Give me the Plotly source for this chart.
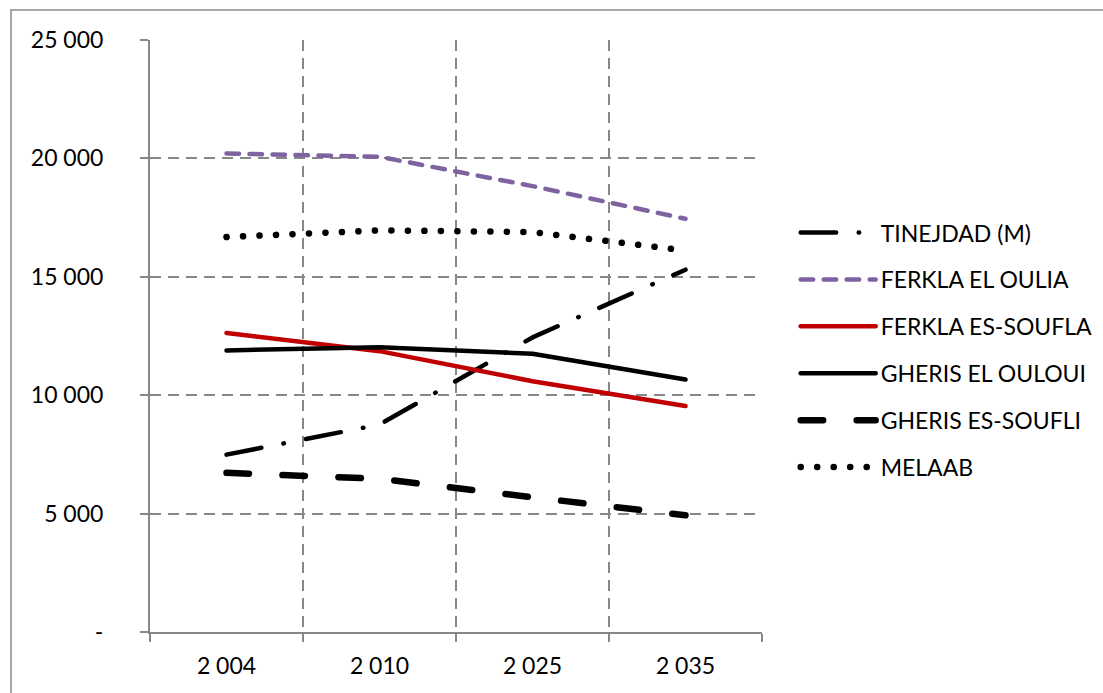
import plotly.graph_objects as go

years = ["2 004", "2 010", "2 025", "2 035"]

tinejdad = [7490, 8760, 12440, 15300]
ferkla_el_oulia = [20210, 20070, 18830, 17450]
ferkla_es_soufla = [12630, 11860, 10590, 9540]
gheris_el_ouloui = [11890, 12030, 11750, 10660]
gheris_es_soufli = [6720, 6470, 5690, 4930]
melaab = [16680, 16960, 16890, 16110]

y_tickvals = [0, 5000, 10000, 15000, 20000, 25000]
y_ticktext = ["-", "5 000", "10 000", "15 000", "20 000", "25 000"]

series = [
    ("TINEJDAD (M)", tinejdad, "#000000", 4.5, "35.5px,22.5px,0.5px,22.5px"),
    ("FERKLA EL OULIA", ferkla_el_oulia, "#7F63A1", 4.5, "12.5px,10.5px"),
    ("FERKLA ES-SOUFLA", ferkla_es_soufla, "#C00000", 4.5, "solid"),
    ("GHERIS EL OULOUI", gheris_el_ouloui, "#000000", 4.5, "solid"),
    ("GHERIS ES-SOUFLI", gheris_es_soufli, "#000000", 6.5, "22.5px,33.5px"),
    ("MELAAB", melaab, "#000000", 6.5, "0.1px,16.4px"),
]

fig = go.Figure()
for i, (name, vals, color, width, dash) in enumerate(series):
    fig.add_trace(go.Scatter(
        x=years, y=vals, name=name, mode="lines",
        line=dict(color=color, width=width, dash=dash),
        legendgroup=f"g{i}",
    ))

axis_gray = "#878787"
font_family = "Lato, Carlito, 'Liberation Sans', sans-serif"
fsize = 23

fig.update_layout(
    width=1103, height=693,
    margin=dict(l=150, r=341, t=40, b=61, autoexpand=False),
    paper_bgcolor="white", plot_bgcolor="white",
    font=dict(family=font_family, size=fsize, color="#000000"),
    showlegend=True,
    legend=dict(
        x=1.055, xanchor="left", y=0.711, yanchor="top",
        itemwidth=75, tracegroupgap=14,
        font=dict(family=font_family, size=fsize, color="#000000"),
        bgcolor="rgba(0,0,0,0)",
    ),
    xaxis=dict(
        type="category", range=[-0.5, 3.5], tickson="boundaries",
        showgrid=True, gridcolor=axis_gray, griddash="11px,7px", gridwidth=1.5,
        showline=True, linecolor=axis_gray, linewidth=2,
        ticks="outside", ticklen=8, tickcolor=axis_gray, tickwidth=1.5,
        ticklabelstandoff=12,
        tickfont=dict(family=font_family, size=fsize, color="#000000"),
        zeroline=False, fixedrange=True,
    ),
    yaxis=dict(
        range=[0, 25000], tickmode="array", tickvals=y_tickvals, ticktext=y_ticktext,
        showgrid=True, gridcolor=axis_gray, griddash="11px,7px", gridwidth=1.5,
        showline=True, linecolor=axis_gray, linewidth=2,
        ticks="outside", ticklen=8, tickcolor=axis_gray, tickwidth=1.5,
        ticklabelstandoff=32,
        tickfont=dict(family=font_family, size=fsize, color="#000000"),
        zeroline=False, fixedrange=True,
    ),
    shapes=[dict(
        type="rect", xref="paper", yref="paper",
        x0=-0.2271, x1=1.8, y0=-0.3, y1=1.0507,
        line=dict(color="#8A8A8A", width=1.5), fillcolor="rgba(0,0,0,0)", layer="below",
    )],
)

post = """
document.body.style.margin='0';
function rc(){document.querySelectorAll('.scatterlayer path.js-line, .legendlines path').forEach(function(p){p.style.strokeLinecap='round';p.style.strokeLinejoin='round';});}
rc(); setTimeout(rc, 50); setTimeout(rc, 300);
"""

fig.write_html("out.html", post_script=post, config={"displayModeBar": False})
